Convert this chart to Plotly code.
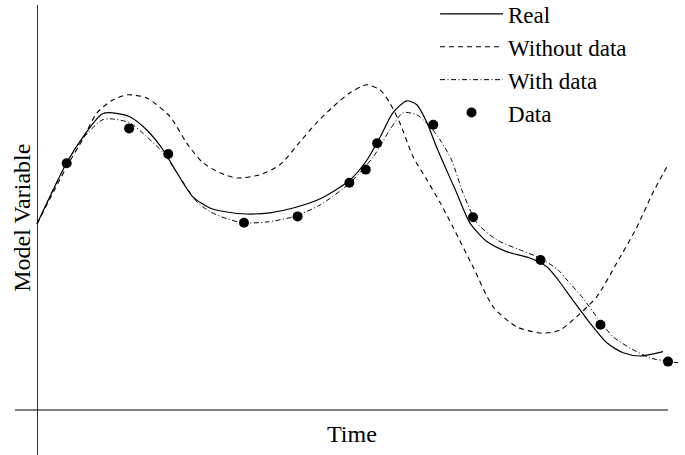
import plotly.graph_objects as go

# ---- data (time in arbitrary units 0..10, model variable in arbitrary units) ----
real_t = [0, 0.47, 0.73, 1.03, 1.20, 1.47, 1.74, 2.00, 2.21, 2.47, 2.74, 3.01, 3.32,
          3.69, 4.06, 4.49, 4.96, 5.23, 5.44, 5.64, 5.86, 6.02, 6.18, 6.33, 6.49,
          6.65, 6.86, 7.13, 7.44, 7.81, 8.08, 8.26, 8.49, 8.76, 9.03, 9.29, 9.56, 9.92]
real_y = [4.65, 6.18, 6.83, 7.40, 7.43, 7.33, 7.00, 6.50, 5.95, 5.33, 5.05, 4.95, 4.90,
          4.93, 5.05, 5.28, 5.75, 6.25, 6.83, 7.43, 7.73, 7.63, 7.18, 6.58, 6.00,
          5.43, 4.68, 4.21, 3.96, 3.80, 3.58, 3.25, 2.75, 2.18, 1.68, 1.43, 1.35, 1.46]

nodata_t = [0, 0.47, 0.73, 0.95, 1.20, 1.44, 1.74, 2.11, 2.37, 2.63, 2.90, 3.17, 3.53,
            3.85, 4.17, 4.43, 4.69, 4.96, 5.23, 5.44, 5.59, 5.75, 5.96, 6.18, 6.39,
            6.59, 6.91, 7.23, 7.60, 8.00, 8.29, 8.55, 8.87, 9.19, 9.50, 9.76, 10.0]
nodata_y = [4.65, 6.08, 6.78, 7.43, 7.75, 7.88, 7.80, 7.33, 6.68, 6.18, 5.93, 5.80, 5.88,
            6.13, 6.71, 7.18, 7.58, 7.93, 8.13, 8.00, 7.68, 7.18, 6.33, 5.75, 5.18,
            4.58, 3.58, 2.58, 2.08, 1.92, 2.00, 2.33, 2.83, 3.68, 4.55, 5.43, 6.13]

withdata_t = [0, 0.47, 0.73, 1.03, 1.16, 1.47, 1.74, 2.00, 2.21, 2.53, 2.74, 3.01, 3.27,
              3.64, 4.06, 4.49, 4.96, 5.33, 5.59, 5.80, 6.02, 6.23, 6.39, 6.57, 6.75,
              6.97, 7.29, 7.66, 7.97, 8.26, 8.40, 8.65, 8.87, 9.13, 9.40, 9.72, 10.16]
withdata_y = [4.65, 6.18, 6.80, 7.25, 7.28, 7.18, 6.83, 6.43, 5.95, 5.21, 4.96, 4.78, 4.68,
              4.70, 4.83, 5.13, 5.68, 6.33, 7.00, 7.43, 7.38, 7.08, 6.75, 6.25, 5.43,
              4.68, 4.25, 4.00, 3.80, 3.50, 3.25, 2.80, 2.33, 1.83, 1.55, 1.30, 1.18]

obs_t = [0.47, 1.46, 2.08, 3.28, 4.13, 4.95, 5.21, 5.39, 6.28, 6.91, 7.98, 8.93, 10.0]
obs_y = [6.17, 7.04, 6.40, 4.68, 4.84, 5.68, 6.01, 6.67, 7.13, 4.82, 3.75, 2.13, 1.21]

FONT = "Liberation Serif"

fig = go.Figure()
fig.add_trace(go.Scatter(x=real_t, y=real_y, mode="lines", name="Real",
                         line=dict(color="black", width=1.2, shape="spline", smoothing=0.7)))
fig.add_trace(go.Scatter(x=nodata_t, y=nodata_y, mode="lines", name="Without data",
                         line=dict(color="black", width=1.1, dash="5px,4px",
                                   shape="spline", smoothing=0.7)))
fig.add_trace(go.Scatter(x=withdata_t, y=withdata_y, mode="lines", name="With data",
                         line=dict(color="black", width=1.0, dash="5px,2.5px,1px,2.5px",
                                   shape="spline", smoothing=0.7)))
fig.add_trace(go.Scatter(x=obs_t, y=obs_y, mode="markers", name="Data",
                         marker=dict(color="black", size=10), cliponaxis=False))

fig.update_layout(
    width=685, height=455,
    margin=dict(l=15, r=0, t=5, b=0, pad=0, autoexpand=False),
    paper_bgcolor="white", plot_bgcolor="white",
    font=dict(family=FONT, size=24, color="black"),
    xaxis=dict(range=[-0.3487, 10.2694], showgrid=False, showticklabels=False,
               ticks="", showline=False, zeroline=True, zerolinecolor="#333333",
               zerolinewidth=1),
    yaxis=dict(range=[-1.125, 10.125], showgrid=False, showticklabels=False,
               ticks="", showline=False, zeroline=False),
    legend=dict(x=0.6269, y=1.028, xanchor="left", yanchor="top",
                bgcolor="rgba(0,0,0,0)", font=dict(family=FONT, size=23),
                itemwidth=63, tracegroupgap=0),
    showlegend=True,
)

# horizontal time axis
fig.add_shape(type="line", xref="paper", yref="y", x0=0, x1=0.9746, y0=0, y1=0,
              line=dict(color="black", width=1.2))

fig.add_annotation(text="Model Variable", xref="paper", yref="paper",
                   x=0.0104, y=0.527, textangle=-90, showarrow=False,
                   xanchor="center", yanchor="middle",
                   font=dict(family=FONT, size=24))
fig.add_annotation(text="Time", xref="paper", yref="paper",
                   x=0.503, y=0.0467, showarrow=False,
                   xanchor="center", yanchor="middle",
                   font=dict(family=FONT, size=24))

fig.write_html("out.html", config={"displayModeBar": False},
               post_script="document.body.style.margin='0';")
